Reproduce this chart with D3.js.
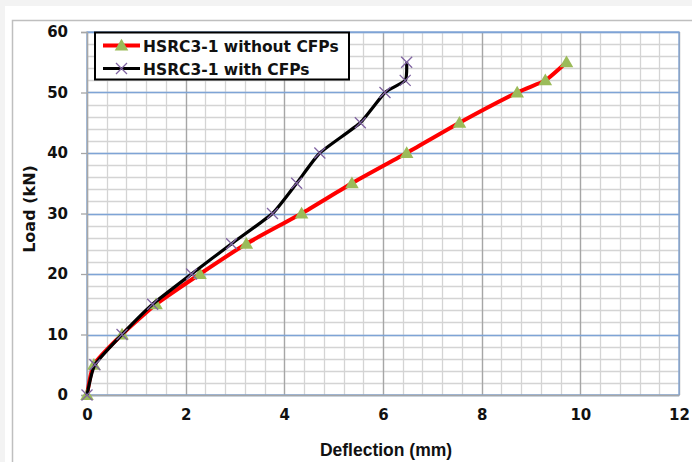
<!DOCTYPE html>
<html><head><meta charset="utf-8">
<script src="https://cdn.jsdelivr.net/npm/d3@7"></script>
<style>html,body{margin:0;padding:0;background:#f3f3f3;}svg{display:block;}</style>
</head><body>
<svg id="chart" width="692" height="462"></svg>
<script>
const seriesNames = ["HSRC3-1 without CFPs", "HSRC3-1 with CFPs"];
const deflectionWithout = [0, 0.14, 0.71, 1.40, 2.29, 3.23, 4.35, 5.37, 6.48, 7.55, 8.72, 9.29, 9.72];
const loadWithout       = [0, 5, 10, 15, 20, 25, 30, 35, 40, 45, 50, 52, 55];
const deflectionWith    = [0, 0.16, 0.71, 1.33, 2.12, 2.93, 3.76, 4.25, 4.72, 5.54, 6.04, 6.45, 6.48];
const loadWith          = [0, 5, 10, 15, 20, 25, 30, 35, 40, 45, 50, 52, 55];
const xTicks = [0, 2, 4, 6, 8, 10, 12];
const yTicks = [0, 10, 20, 30, 40, 50, 60];

const svg = d3.select("#chart");
svg.append("rect").attr("x",5).attr("y",6).attr("width",687).attr("height",456).attr("fill","#fff");
svg.append("path").attr("d","M12.5,462 V20.5 H692").attr("fill","none").attr("stroke","#bfbfbf").attr("stroke-width",1.5);

const L=87, R=679, T=32, B=395;
const x = d3.scaleLinear().domain([0,12]).range([L,R]);
const y = d3.scaleLinear().domain([0,60]).range([B,T]);

const g = svg.append("g");
g.selectAll(".vminor").data(d3.range(0,12.001,0.4)).join("line")
  .attr("x1",d=>Math.round(x(d))+0.5).attr("x2",d=>Math.round(x(d))+0.5).attr("y1",T).attr("y2",B)
  .attr("stroke","#d4d4d4").attr("stroke-width",1.3);
g.selectAll(".hminor").data(d3.range(0,60.001,2)).join("line")
  .attr("y1",d=>Math.round(y(d))+0.5).attr("y2",d=>Math.round(y(d))+0.5).attr("x1",L).attr("x2",R)
  .attr("stroke","#d4d4d4").attr("stroke-width",1.3);
g.selectAll(".vmajor").data(xTicks).join("line")
  .attr("x1",d=>Math.round(x(d))+0.5).attr("x2",d=>Math.round(x(d))+0.5).attr("y1",T).attr("y2",B)
  .attr("stroke","#a6a6a6").attr("stroke-width",1.3);
g.selectAll(".hmajor").data(yTicks).join("line")
  .attr("y1",d=>Math.round(y(d))+0.5).attr("y2",d=>Math.round(y(d))+0.5).attr("x1",L).attr("x2",R)
  .attr("stroke","#7ea4d6").attr("stroke-width",1.3);
g.append("rect").attr("x",L).attr("y",T).attr("width",R-L).attr("height",B-T)
  .attr("fill","none").attr("stroke","#7ea4d6").attr("stroke-width",1.3);

const yAxis = d3.axisLeft(y).tickValues(yTicks).tickSize(6).tickPadding(13).tickFormat(d3.format("d"));
const ya = svg.append("g").attr("transform",`translate(${L},0)`).call(yAxis);
ya.select(".domain").attr("stroke","#a6a6a6").attr("stroke-width",1.3);
ya.selectAll(".tick line").attr("stroke","#a6a6a6").attr("stroke-width",1.3);
ya.selectAll("text").attr("font-family","DejaVu Sans").attr("font-weight","bold").attr("font-size",15).attr("fill","#111");

const xAxis = d3.axisBottom(x).tickValues(xTicks).tickSize(0).tickPadding(14).tickFormat(d3.format("d"));
const xa = svg.append("g").attr("transform",`translate(0,${B})`).call(xAxis);
xa.select(".domain").attr("stroke","#a6a6a6").attr("stroke-width",1.3);
xa.selectAll("text").attr("font-family","DejaVu Sans").attr("font-weight","bold").attr("font-size",15).attr("fill","#111");

svg.append("text").attr("x",386).attr("y",456).attr("text-anchor","middle")
  .attr("font-family","Liberation Sans").attr("font-weight","bold").attr("font-size",17.5).attr("fill","#111")
  .text("Deflection (mm)");
svg.append("text").attr("transform","translate(35,209) rotate(-90)").attr("text-anchor","middle")
  .attr("font-family","DejaVu Sans").attr("font-weight","bold").attr("font-size",16).attr("fill","#111")
  .text("Load  (kN)");

const s0 = deflectionWithout.map((d,i)=>[d, loadWithout[i]]);
const s1 = deflectionWith.map((d,i)=>[d, loadWith[i]]);
const line = d3.line().x(d=>x(d[0])).y(d=>y(d[1])).curve(d3.curveCardinal.tension(0.5));

svg.append("path").datum(s0).attr("d",line).attr("fill","none").attr("stroke","#ff0000").attr("stroke-width",4);
const tri = d3.symbol().type(d3.symbolTriangle).size(80);
svg.selectAll(".tri").data(s0).join("path")
  .attr("transform",d=>`translate(${x(d[0])},${y(d[1])+1})`).attr("d",tri).attr("fill","#9bbb59");

svg.append("path").datum(s1).attr("d",line).attr("fill","none").attr("stroke","#000").attr("stroke-width",3.2);
const cr = 5.5;
svg.selectAll(".cross").data(s1).join("path")
  .attr("d",d=>{const cx=x(d[0]), cy=y(d[1]); return `M${cx-cr},${cy-cr}L${cx+cr},${cy+cr}M${cx-cr},${cy+cr}L${cx+cr},${cy-cr}`;})
  .attr("stroke","#8064a2").attr("stroke-width",1.3).attr("fill","none");

const lg = svg.append("g");
lg.append("rect").attr("x",95).attr("y",32.5).attr("width",254).attr("height",47)
  .attr("fill","#fff").attr("stroke","#000").attr("stroke-width",2);
const legendY = [45.5, 68.5];
seriesNames.forEach((name,i)=>{
  lg.append("line").attr("x1",103).attr("x2",140).attr("y1",legendY[i]).attr("y2",legendY[i])
    .attr("stroke", i===0?"#ff0000":"#000").attr("stroke-width", i===0?4:3.2);
  if(i===0){
    lg.append("path").attr("transform",`translate(121.5,${legendY[i]+1})`).attr("d",tri).attr("fill","#9bbb59");
  } else {
    const cx=121.5, cy=legendY[i];
    lg.append("path").attr("d",`M${cx-cr},${cy-cr}L${cx+cr},${cy+cr}M${cx-cr},${cy+cr}L${cx+cr},${cy-cr}`)
      .attr("stroke","#8064a2").attr("stroke-width",1.3);
  }
  lg.append("text").attr("x",143).attr("y",legendY[i]+6).attr("font-family","DejaVu Sans")
    .attr("font-weight","bold").attr("font-size",15.5).attr("fill","#111").text(name);
});
</script>
</body></html>
